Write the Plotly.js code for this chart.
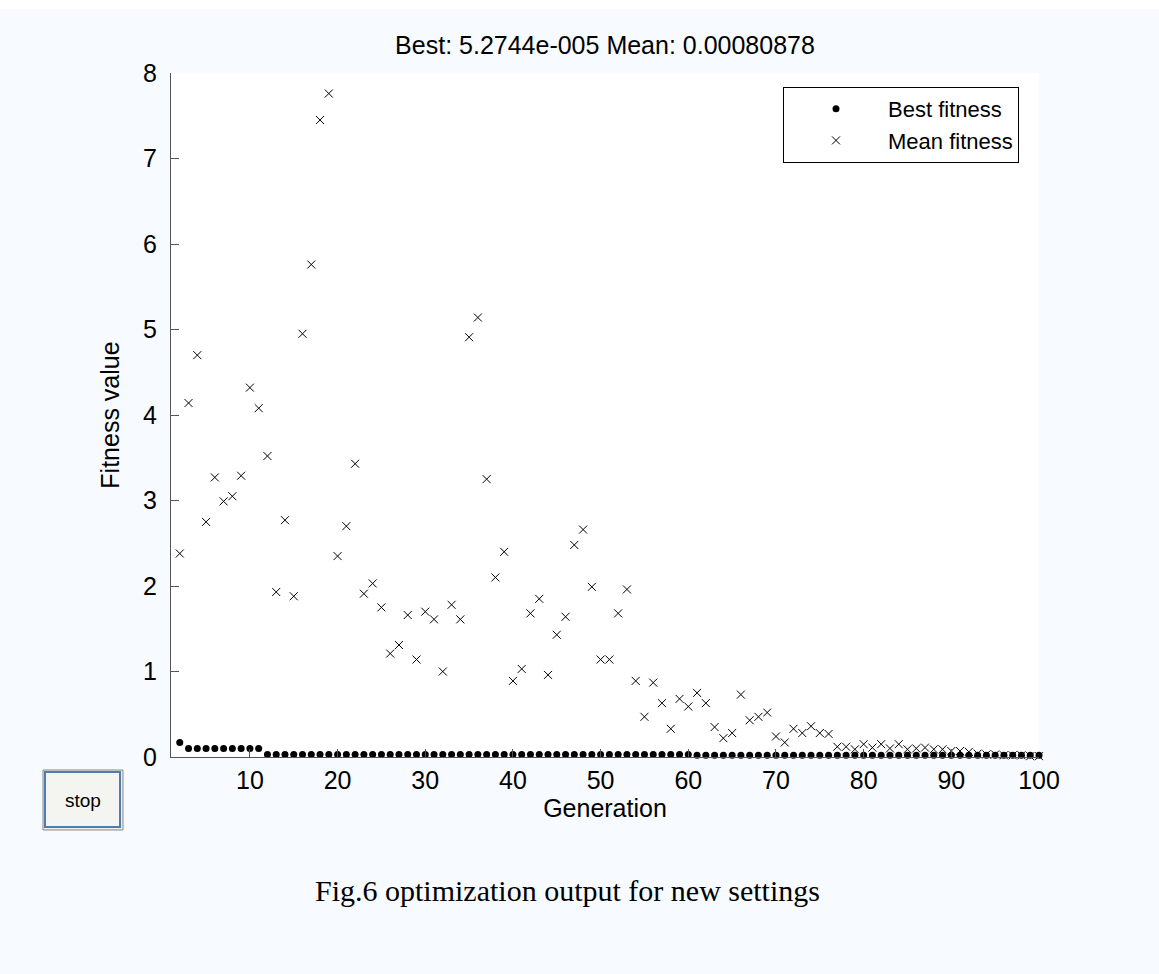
<!DOCTYPE html>
<html>
<head>
<meta charset="utf-8">
<script src="https://cdn.plot.ly/plotly-3.0.1.min.js"></script>
<style>
  html, body { margin: 0; padding: 0; background: #F7FAFE; }
  #chart { width: 1159px; height: 974px; }
</style>
</head>
<body>
<div id="chart"></div>
<script>
// ---- data ----
const generation = [2,3,4,5,6,7,8,9,10,11,12,13,14,15,16,17,18,19,20,21,22,23,24,25,26,27,28,29,30,31,32,33,34,35,36,37,38,39,40,41,42,43,44,45,46,47,48,49,50,51,52,53,54,55,56,57,58,59,60,61,62,63,64,65,66,67,68,69,70,71,72,73,74,75,76,77,78,79,80,81,82,83,84,85,86,87,88,89,90,91,92,93,94,95,96,97,98,99,100];

const bestFitness = [0.17,0.10,0.10,0.10,0.10,0.10,0.10,0.10,0.10,0.10,0.03,0.03,0.03,0.03,0.03,0.03,0.03,0.03,0.03,0.03,0.03,0.03,0.03,0.03,0.03,0.03,0.03,0.03,0.03,0.03,0.03,0.03,0.03,0.03,0.03,0.03,0.03,0.03,0.03,0.03,0.03,0.03,0.03,0.03,0.03,0.03,0.03,0.03,0.03,0.03,0.03,0.03,0.03,0.03,0.03,0.03,0.03,0.03,0.03,0.02,0.02,0.02,0.02,0.02,0.02,0.02,0.02,0.02,0.02,0.02,0.02,0.02,0.02,0.02,0.02,0.02,0.02,0.02,0.02,0.02,0.02,0.02,0.02,0.02,0.02,0.02,0.02,0.02,0.02,0.02,0.02,0.02,0.02,0.02,0.02,0.02,0.02,0.02,0.02];

const meanFitness = [2.38,4.14,4.70,2.75,3.27,2.99,3.05,3.29,4.32,4.08,3.52,1.93,2.77,1.88,4.95,5.76,7.45,7.76,2.35,2.70,3.43,1.91,2.03,1.75,1.21,1.31,1.66,1.14,1.70,1.61,1.00,1.78,1.61,4.91,5.14,3.25,2.10,2.40,0.89,1.03,1.68,1.85,0.96,1.43,1.64,2.48,2.66,1.99,1.14,1.14,1.68,1.96,0.89,0.47,0.87,0.63,0.33,0.68,0.59,0.75,0.63,0.35,0.22,0.28,0.73,0.43,0.47,0.52,0.24,0.17,0.33,0.28,0.36,0.28,0.27,0.12,0.12,0.09,0.15,0.11,0.15,0.10,0.15,0.09,0.10,0.11,0.09,0.09,0.07,0.07,0.06,0.04,0.03,0.03,0.02,0.02,0.02,0.01,0.01];

const xTickVals = [10,20,30,40,50,60,70,80,90,100];
const yTickVals = [0,1,2,3,4,5,6,7,8];

const titleText = 'Best: 5.2744e-005 Mean: 0.00080878';
const xTitle = 'Generation';
const yTitle = 'Fitness value';
const captionText = 'Fig.6 optimization output for new settings';
const legendNames = ['Best fitness', 'Mean fitness'];

// ---- layout geometry (pixels) ----
const W = 1159, H = 974;
const L = 171, R = 1039, T = 73, B = 757;
const px2x = p => (p - L) / (R - L);
const px2y = p => (B - p) / (B - T);

const FONT = 'Liberation Sans, Arial, Helvetica, sans-serif';
const AX = 25;

const traces = [
  {
    x: generation, y: bestFitness, name: legendNames[0],
    type: 'scatter', mode: 'markers', cliponaxis: false,
    marker: { symbol: 'circle', size: 7, color: '#000000', line: { width: 0 } }
  },
  {
    x: generation, y: meanFitness, name: legendNames[1],
    type: 'scatter', mode: 'markers', cliponaxis: false,
    marker: { symbol: 'x-thin-open', size: 8, color: '#000000', line: { width: 1, color: '#000000' } }
  }
];

const layout = {
  width: W, height: H,
  margin: { l: L, r: W - R, t: T, b: H - B, pad: 0 },
  paper_bgcolor: '#F7FAFE',
  plot_bgcolor: '#FFFFFF',
  showlegend: true,
  font: { family: FONT, size: AX, color: '#000000' },
  title: {
    text: titleText,
    font: { family: FONT, size: AX, color: '#000000' },
    xref: 'paper', x: 0.5, xanchor: 'center',
    yref: 'container', y: 1 - 45 / H, yanchor: 'middle'
  },
  xaxis: {
    range: [1, 100], tickvals: xTickVals, ticktext: xTickVals.map(String),
    showgrid: false, zeroline: false,
    showline: true, linecolor: '#555555', linewidth: 1,
    ticks: 'inside', ticklen: 8, tickcolor: '#555555', tickwidth: 1,
    ticklabelstandoff: 1,
    tickfont: { family: FONT, size: AX, color: '#000000' },
    title: { text: xTitle, font: { family: FONT, size: AX, color: '#000000' }, standoff: 4 },
    mirror: false, fixedrange: true
  },
  yaxis: {
    range: [0, 8], tickvals: yTickVals, ticktext: yTickVals.map(String),
    showgrid: false, zeroline: false,
    showline: true, linecolor: '#555555', linewidth: 1,
    ticks: 'inside', ticklen: 8, tickcolor: '#555555', tickwidth: 1,
    ticklabelstandoff: 8,
    tickfont: { family: FONT, size: AX, color: '#000000' },
    title: { text: yTitle, font: { family: FONT, size: AX, color: '#000000' }, standoff: 16 },
    mirror: false, fixedrange: true
  },
  legend: {
    x: px2x(1019), xanchor: 'right',
    y: px2y(87), yanchor: 'top',
    bgcolor: '#FFFFFF', bordercolor: '#000000', borderwidth: 1,
    font: { family: FONT, size: 22, color: '#000000' },
    itemwidth: 94, tracegroupgap: 0
  },
  shapes: [
    // white band at top of image
    { type: 'rect', xref: 'paper', yref: 'paper', x0: px2x(0), x1: px2x(W), y0: px2y(0), y1: px2y(9),
      line: { width: 0 }, fillcolor: '#FFFFFF', layer: 'below' },
    // stop button
    { type: 'rect', xref: 'paper', yref: 'paper', x0: px2x(43), x1: px2x(123), y0: px2y(830), y1: px2y(770),
      line: { width: 1, color: '#8A8A8A' }, fillcolor: '#ECECE6' },
    { type: 'rect', xref: 'paper', yref: 'paper', x0: px2x(45), x1: px2x(120), y0: px2y(827), y1: px2y(772),
      line: { width: 2, color: '#4F7BAE' }, fillcolor: '#F4F4F0' }
  ],
  annotations: [
    { text: 'stop', xref: 'paper', yref: 'paper', x: px2x(83), y: px2y(800),
      xanchor: 'center', yanchor: 'middle', showarrow: false,
      font: { family: FONT, size: 19, color: '#000000' } },
    { text: captionText, xref: 'paper', yref: 'paper', x: px2x(567), y: px2y(890),
      xanchor: 'center', yanchor: 'middle', showarrow: false,
      font: { family: 'Liberation Serif, Times New Roman, serif', size: 30, color: '#000000' } }
  ]
};

Plotly.newPlot('chart', traces, layout, { displayModeBar: false, staticPlot: true });
</script>
</body>
</html>
